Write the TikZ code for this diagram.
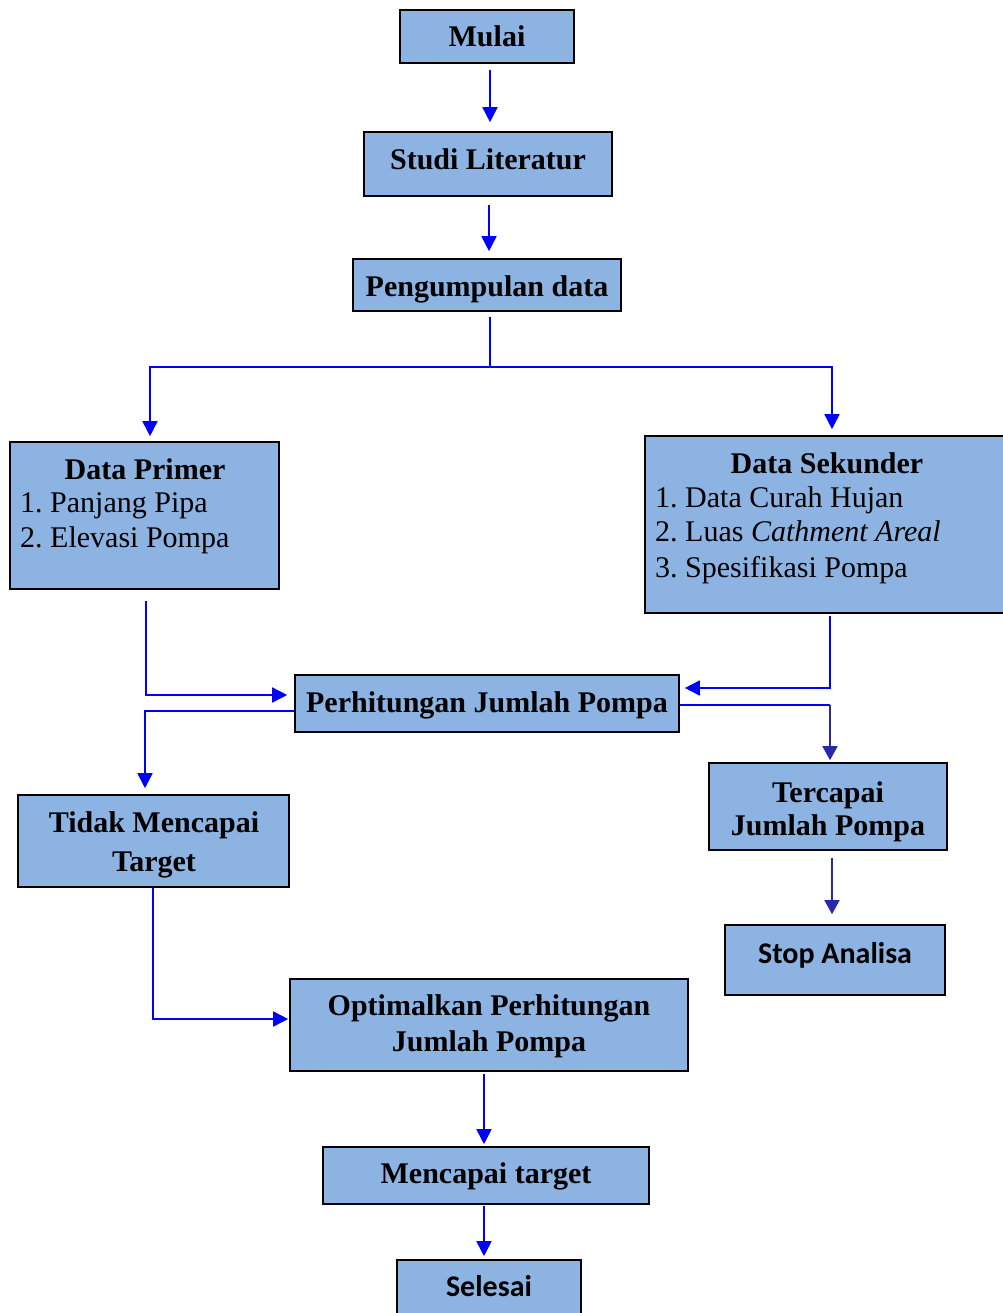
\documentclass[tikz,border=0pt]{standalone}
\usepackage{fontspec}
\setmainfont{Liberation Serif}
\newfontfamily\calfont{Carlito}
\usetikzlibrary{arrows.meta,calc}
\definecolor{boxfill}{RGB}{141,179,226}
\definecolor{navy}{RGB}{40,40,170}
\begin{document}
\begin{tikzpicture}[x=1pt,y=-1pt,
  box/.style={draw=black, line width=1.6pt, fill=boxfill, inner sep=0pt},
  lbl/.style={font=\bfseries\fontsize{30}{36}\selectfont, anchor=base, inner sep=0pt},
  clbl/.style={font=\calfont\bfseries\fontsize{30}{36}\selectfont, anchor=base, inner sep=0pt},
  item/.style={font=\fontsize{30}{36}\selectfont, anchor=base west, inner sep=0pt},
  flow/.style={draw=blue, line width=1.6pt},
  arr/.style={flow, -{Triangle[width=15pt,length=15pt]}},
  narr/.style={draw=navy, line width=1.6pt, -{Triangle[width=15pt,length=14pt]}}
]
\fill[white] (0,0) rectangle (1002,1313);
\useasboundingbox (0,0) rectangle (1002,1313);

% boxes
\node[box, minimum width=174pt, minimum height=53pt] (mulai) at (487,36.5) {};
\node[box, minimum width=248pt, minimum height=64pt] (studi) at (488,164) {};
\node[box, minimum width=268pt, minimum height=52pt] (kumpul) at (487,285) {};
\node[box, minimum width=269pt, minimum height=147pt] (primer) at (144.5,515.5) {};
\node[box, minimum width=365pt, minimum height=177pt] (sekunder) at (827.5,524.5) {};
\node[box, minimum width=384pt, minimum height=57pt] (perhit) at (487,703.5) {};
\node[box, minimum width=238pt, minimum height=87pt] (tercapai) at (828,806.5) {};
\node[box, minimum width=220pt, minimum height=70pt] (stop) at (835,960) {};
\node[box, minimum width=271pt, minimum height=92pt] (tidak) at (153.5,841) {};
\node[box, minimum width=398pt, minimum height=92pt] (optimal) at (489,1025) {};
\node[box, minimum width=326pt, minimum height=57pt] (mencapai) at (486,1175.5) {};
\node[box, minimum width=184pt, minimum height=60pt] (selesai) at (489,1290) {};

% texts
\node[lbl] (t-mulai) at (487,47) {Mulai};
\node[lbl] (t-studi) at (488,170) {Studi Literatur};
\node[lbl] (t-kumpul) at (487,297) {Pengumpulan data};
\node[lbl] (t-primer) at (145,479) {Data Primer};
\node[item] (t-primer1) at (20,512) {1.\ Panjang Pipa};
\node[item] (t-primer2) at (20,547) {2.\ Elevasi Pompa};
\node[lbl] (t-sek) at (827,473) {Data Sekunder};
\node[item] (t-sek1) at (655,507) {1.\ Data Curah Hujan};
\node[item] (t-sek2) at (655,541) {2.\ Luas \textit{Cathment Areal}};
\node[item] (t-sek3) at (655,577) {3.\ Spesifikasi Pompa};
\node[lbl] (t-perhit) at (487,712) {Perhitungan Jumlah Pompa};
\node[lbl] (t-terc1) at (828,802) {Tercapai};
\node[lbl] (t-terc2) at (828,835) {Jumlah Pompa};
\node[clbl] (t-stop) at (835,963) {Stop Analisa};
\node[lbl] (t-tidak1) at (154,832) {Tidak Mencapai};
\node[lbl] (t-tidak2) at (154,871) {Target};
\node[lbl] (t-opt1) at (489,1015) {Optimalkan Perhitungan};
\node[lbl] (t-opt2) at (489,1051) {Jumlah Pompa};
\node[lbl] (t-menc) at (486,1183) {Mencapai target};
\node[clbl] (t-sel) at (489,1296) {Selesai};

% connectors
\coordinate (m1) at ([xshift=3pt,yshift=-6pt]mulai.south);
\draw[arr, shorten >=9pt] (m1) -- (m1 |- studi.north);

\coordinate (s1) at ([xshift=1pt,yshift=-8pt]studi.south);
\draw[arr, shorten >=7pt] (s1) -- (s1 |- kumpul.north);

\coordinate (k1) at ([xshift=3pt,yshift=-5pt]kumpul.south);
\coordinate (k2) at (490,367);
\draw[flow] (k1) -- (k2);
\draw[arr, shorten >=5pt] (k2) -| ([xshift=5.5pt]primer.north);
\draw[arr, shorten >=6pt] (k2) -| ([xshift=4.5pt]sekunder.north);

\draw[arr, shorten >=7pt] ([xshift=1.5pt,yshift=-11pt]primer.south) |- ([yshift=8.5pt]perhit.west);
\draw[arr, shorten >=6pt] ([yshift=-7.5pt]perhit.west) -| ([xshift=-8.5pt]tidak.north);

\draw[arr, shorten >=5pt] ([xshift=2.5pt,yshift=-2pt]sekunder.south) |- ([yshift=15.5pt]perhit.east);

\coordinate (g1) at (830,705);
\draw[flow] ([yshift=-1.5pt]perhit.east) -- (g1);
\draw[narr, shorten >=2pt] (g1) -- (g1 |- tercapai.north);

\coordinate (h1) at ([xshift=4pt,yshift=-7pt]tercapai.south);
\draw[narr, shorten >=10pt] (h1) -- (h1 |- stop.north);

\draw[arr, shorten >=1pt] ([xshift=-0.5pt]tidak.south) |- ([yshift=6pt]optimal.west);

\coordinate (o1) at ([xshift=-5pt,yshift=-2pt]optimal.south);
\draw[arr, shorten >=2pt] (o1) -- (o1 |- mencapai.north);

\coordinate (n1) at ([xshift=-2pt,yshift=-1pt]mencapai.south);
\draw[arr, shorten >=3pt] (n1) -- (n1 |- selesai.north);
\end{tikzpicture}
\end{document}
